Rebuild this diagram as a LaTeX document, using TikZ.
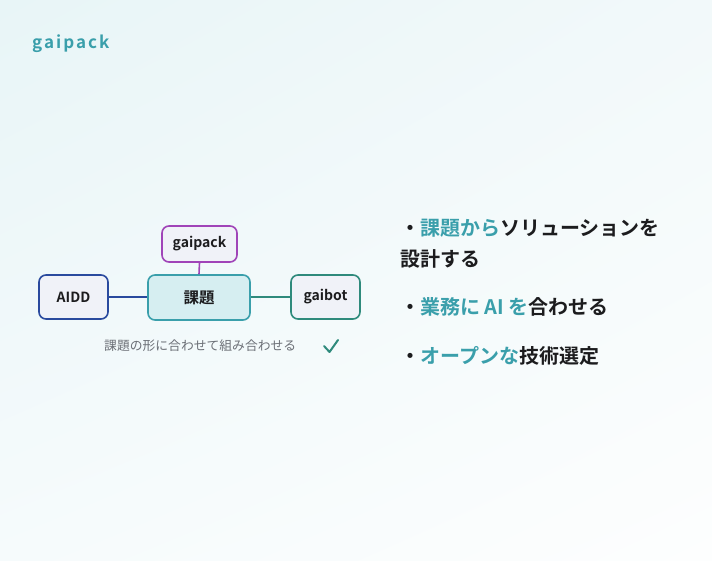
\documentclass[tikz,border=0pt]{standalone}
\usepackage{fontspec}
\usetikzlibrary{shadings}
\setmainfont{Noto Sans CJK JP}[BoldFont={* Bold}]
\newfontfamily\jpfont{Noto Sans CJK JP}[BoldFont={* Bold}]
\newfontfamily\logofont{Noto Sans CJK JP}[BoldFont={* Bold},LetterSpace=12]
\definecolor{teal1}{HTML}{3A9FAB}
\definecolor{ink}{HTML}{1C1C1E}
\definecolor{purp}{HTML}{A044B8}
\definecolor{navy}{HTML}{2A4A9E}
\definecolor{grn}{HTML}{2F8A7C}
\definecolor{boxfill}{HTML}{F0F2F8}
\definecolor{corefill}{HTML}{D6EEF1}
\definecolor{gray1}{HTML}{6B6F76}
\definecolor{bgul}{HTML}{E8F5F7}
\definecolor{bgur}{HTML}{F2F9FA}
\definecolor{bgll}{HTML}{F6FBFC}
\definecolor{bglr}{HTML}{FDFEFE}
\tikzset{
  px/.style={x=1pt,y=-1pt},
  boxnode/.style={rounded corners=7pt, line width=1.6pt, fill=boxfill, inner sep=0pt, font=\jpfont\bfseries\fontsize{14}{16}\selectfont, text=ink},
  link/.style={line width=1.6pt},
  bullet/.style={anchor=west, inner sep=0pt, font=\jpfont\bfseries\fontsize{20}{22}\selectfont, text=ink}
}
\begin{document}
\begin{tikzpicture}[px]
\shade[upper left=bgul, upper right=bgur, lower left=bgll, lower right=bglr]
  (0,0) rectangle (712,561);
\useasboundingbox (0,0) rectangle (712,561);
% logo
\node[anchor=west, inner sep=0pt, text=teal1, font=\logofont\bfseries\fontsize{17}{19}\selectfont] (logo) at (32,44) {gaipack};
% nodes
\node[boxnode, draw=purp, minimum width=75pt, minimum height=36pt] (gp) at (199.5,244) {gaipack};
\node[boxnode, draw=teal1, fill=corefill, minimum width=102pt, minimum height=45pt, font=\jpfont\bfseries\fontsize{15.5}{17}\selectfont] (core) at (199,297.5) {課題};
\node[boxnode, draw=navy, minimum width=69pt, minimum height=44pt] (aidd) at (73.5,297) {AIDD};
\node[boxnode, draw=grn, minimum width=69pt, minimum height=44pt] (gb) at (325.5,297) {gaibot};
\draw[link, draw=purp] (gp.south) -- (core.north);
\draw[link, draw=navy] (aidd.east) -- (core.west |- aidd.east);
\draw[link, draw=grn] (core.east |- gb.west) -- (gb.west);
% caption
\node[anchor=west, inner sep=0pt, text=gray1, font=\jpfont\fontsize{12.8}{14}\selectfont] (cap) at (104,346) {課題の形に合わせて組み合わせる};
\coordinate (c1) at (324,346);
\coordinate (c2) at (329.5,352);
\coordinate (c3) at (338,340);
\draw[grn, line width=2pt, line cap=round, line join=round] (c1) -- (c2) -- (c3);
% bullets
\node[bullet] (b1) at (400,228) {・\textcolor{teal1}{課題から}ソリューションを};
\node[bullet] (b1b) at (400,259) {設計する};
\node[bullet] (b2) at (400,307) {・\textcolor{teal1}{業務に AI を}合わせる};
\node[bullet] (b3) at (400,356) {・\textcolor{teal1}{オープンな}技術選定};
\end{tikzpicture}
\end{document}
